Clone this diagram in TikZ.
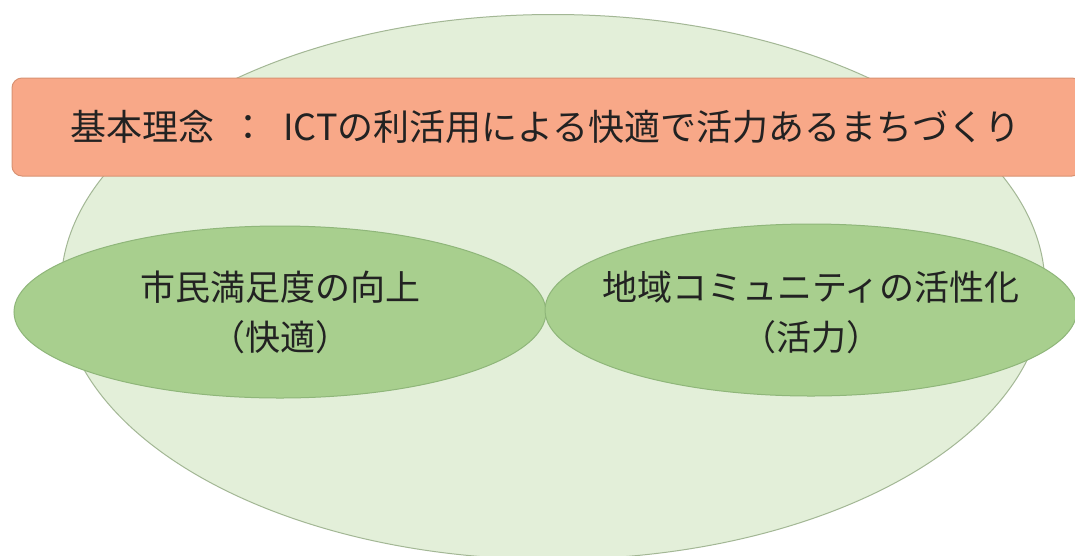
\documentclass[tikz,border=0pt]{standalone}
\usepackage{fontspec}
\setmainfont{Noto Sans CJK JP}
\usetikzlibrary{shapes.geometric}
\definecolor{bigfill}{HTML}{E3EFD9}
\definecolor{bigdraw}{HTML}{A3B795}
\definecolor{smallfill}{HTML}{A8CF8E}
\definecolor{smalldraw}{HTML}{8FB67A}
\definecolor{barfill}{HTML}{F8A888}
\definecolor{bardraw}{HTML}{D99272}
\definecolor{txt}{HTML}{222222}
\tikzset{
  bigell/.style={ellipse, draw=bigdraw, fill=bigfill, line width=1pt, inner sep=0pt, minimum width=984pt, minimum height=545pt},
  smallell/.style={ellipse, draw=smalldraw, fill=smallfill, line width=1pt, inner sep=0pt, minimum width=532pt, minimum height=172pt},
  elltext/.style={text=txt, font=\fontsize{35}{50}\selectfont, align=center, inner sep=0pt},
  bar/.style={rectangle, rounded corners=10pt, draw=bardraw, fill=barfill, line width=1pt, minimum width=1070pt, minimum height=98pt, inner sep=0pt},
}
\begin{document}
\begin{tikzpicture}[x=1pt,y=-1pt]
\useasboundingbox[fill=white] (0,0) rectangle (1075,555);
\begin{scope}
\clip (0,0) rectangle (1075,555);
\node[bigell] (big) at (553,287) {};
\node[bar] (bar) at (547,127) {};
\node[anchor=west, text=txt, font=\fontsize{36}{40}\selectfont, inner sep=0pt] (title) at (70,127) {基本理念\hspace{16pt}：\hspace{17pt}ICTの利活用による快適で活力あるまちづくり};
\node[smallell] (left) at (280,312) {};
\node[smallell] (right) at (811,310) {};
\node[elltext] (lefttext) at (left.center) {市民満足度の向上\\（快適）};
\node[elltext] (righttext) at ([yshift=-2pt]right.center) {地域コミュニティの活性化\\（活力）};
\end{scope}
\end{tikzpicture}
\end{document}
